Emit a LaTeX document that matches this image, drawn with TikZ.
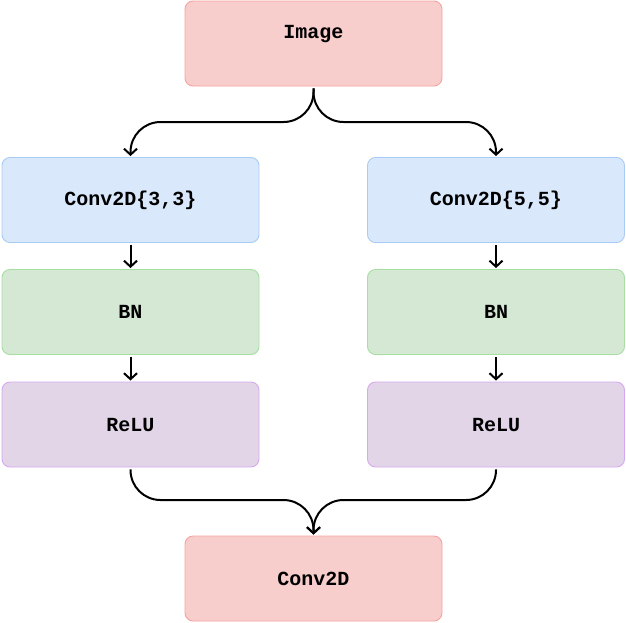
\documentclass[tikz,border=0pt]{standalone}
\usepackage{fontspec}
\setmonofont{Liberation Mono}
\usetikzlibrary{arrows.meta}
\definecolor{redfill}{HTML}{F8CECC}
\definecolor{redline}{HTML}{F4A3A0}
\definecolor{bluefill}{HTML}{DAE8FC}
\definecolor{blueline}{HTML}{A9CCF4}
\definecolor{greenfill}{HTML}{D5E8D4}
\definecolor{greenline}{HTML}{A8DEA2}
\definecolor{purplefill}{HTML}{E1D5E7}
\definecolor{purpleline}{HTML}{D7A8F0}
\tikzset{
  blk/.style={rectangle, rounded corners=8pt, minimum width=257pt, minimum height=85pt, inner sep=0pt, line width=0.9pt,
    font=\fontsize{20}{24}\selectfont\ttfamily\bfseries},
  redblk/.style={blk, fill=redfill, draw=redline},
  blueblk/.style={blk, fill=bluefill, draw=blueline},
  greenblk/.style={blk, fill=greenfill, draw=greenline},
  purpleblk/.style={blk, fill=purplefill, draw=purpleline},
  lbl/.style={font=\fontsize{20}{24}\selectfont\ttfamily\bfseries, inner sep=0pt},
  arr/.style={line width=2pt, -{Straight Barb[length=6pt,width=13pt,line width=2pt]}, shorten <=2pt, shorten >=1pt}
}
\begin{document}
\begin{tikzpicture}[x=1pt,y=-1pt]
\useasboundingbox (0,0) rectangle (626,622);
\node[redblk] (img) at (313.5,43.5) {};
\node[lbl] (imgtxt) at (313.5,34) {Image};
\node[blueblk] (c1) at (130.5,200) {Conv2D\{3,3\}};
\node[blueblk] (c2) at (496,200) {Conv2D\{5,5\}};
\node[greenblk] (b1) at (130.5,312) {BN};
\node[greenblk] (b2) at (496,312) {BN};
\node[purpleblk] (r1) at (130.5,424.5) {ReLU};
\node[purpleblk] (r2) at (496,424.5) {ReLU};
\node[redblk] (out) at (313.5,578.5) {Conv2D};
\coordinate (split) at (313.5,122);
\coordinate (merge) at (313.5,500);
\draw[arr, rounded corners=30pt] (img.south) -- (split) -| (c1.north);
\draw[arr, rounded corners=30pt] (img.south) -- (split) -| (c2.north);
\draw[arr] (c1) -- (b1);
\draw[arr] (c2) -- (b2);
\draw[arr] (b1) -- (r1);
\draw[arr] (b2) -- (r2);
\draw[arr, rounded corners=30pt] (r1.south) |- (merge) -- (out.north);
\draw[arr, rounded corners=30pt] (r2.south) |- (merge) -- (out.north);
\end{tikzpicture}
\end{document}
